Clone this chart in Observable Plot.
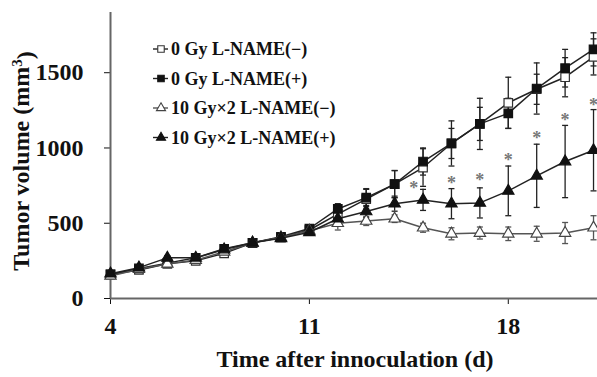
<!DOCTYPE html>
<html><head><meta charset="utf-8">
<script src="https://cdn.jsdelivr.net/npm/d3@7"></script>
<script src="https://cdn.jsdelivr.net/npm/@observablehq/plot@0.6"></script>
<style>body{margin:0;background:#fff}#chart{width:597px;height:377px}</style>
</head><body><div id="chart"></div>
<script>
const days = [4,5,6,7,8,9,10,11,12,13,14,15,16,17,18,19,20,21];
const seriesNames = ["0 Gy L-NAME(−)", "0 Gy L-NAME(+)", "10 Gy×2 L-NAME(−)", "10 Gy×2 L-NAME(+)"];
const gy0Minus  = [160,190,230,250,300,370,405,455,560,660,760,870,1030,1160,1300,1390,1470,1605];
const gy0MinusSd= [15,15,15,15,15,15,20,25,40,65,90,125,150,170,170,100,130,120];
const gy0Plus   = [160,200,235,270,330,370,410,465,595,670,760,910,1030,1160,1230,1395,1530,1655];
const gy0PlusSd = [15,15,15,15,15,15,20,25,35,60,90,90,100,110,100,170,125,110];
const gy10Minus = [150,195,230,255,310,370,405,450,500,515,530,470,430,435,430,430,435,470];
const gy10MinusSd=[15,15,15,15,15,15,15,20,45,30,25,30,40,40,45,50,70,80];
const gy10Plus  = [165,205,270,270,325,370,400,440,530,578,630,655,630,635,715,815,910,985];
const gy10PlusSd= [15,15,15,15,15,15,15,20,35,40,50,70,100,100,165,210,240,270];
const starDays  = [14.67,16,17,18,19,20,21];
const starY     = [750,783,803,937,1083,1203,1303];
const xTicks = [4,11,18];
const yTicks = [0,500,1000,1500];

const values = [gy0Minus, gy0Plus, gy10Minus, gy10Plus];
const sds = [gy0MinusSd, gy0PlusSd, gy10MinusSd, gy10PlusSd];
const styles = [
  {symbol:"square", fill:"white", stroke:"#333", line:"#222", r:4.8},
  {symbol:"square", fill:"#111", stroke:"#111", line:"#222", r:4.8},
  {symbol:"triangle", fill:"white", stroke:"#444", line:"#555", r:4.2},
  {symbol:"triangle", fill:"#111", stroke:"#111", line:"#222", r:4.2}
];
const rows = [];
seriesNames.forEach((s,i)=>days.forEach((d,j)=>rows.push({series:s, idx:i, day:d, v:values[i][j], sd:sds[i][j]})));
const stars = starDays.map((d,i)=>({day:d, y:starY[i]}));

const cap = {draw(ctx){ctx.moveTo(-3,0);ctx.lineTo(3,0);}};
const font = "Liberation Serif, Times New Roman, serif";

const marks = [
  Plot.ruleY([0], {stroke:"#666", strokeWidth:2}),
  Plot.ruleX([4], {stroke:"#666", strokeWidth:2}),
];
seriesNames.forEach((s,i)=>{
  const data = rows.filter(r=>r.idx===i);
  const st = styles[i];
  marks.push(Plot.ruleX(data, {x:"day", y1:d=>d.v-d.sd, y2:d=>d.v+d.sd, stroke:st.line, strokeWidth:1.3}));
  marks.push(Plot.dot(data, {x:"day", y:d=>d.v+d.sd, symbol:cap, stroke:st.line, strokeWidth:1.3, fill:"none"}));
  marks.push(Plot.dot(data, {x:"day", y:d=>d.v-d.sd, symbol:cap, stroke:st.line, strokeWidth:1.3, fill:"none"}));
});
seriesNames.forEach((s,i)=>{
  const data = rows.filter(r=>r.idx===i);
  const st = styles[i];
  marks.push(Plot.line(data, {x:"day", y:"v", stroke:st.line, strokeWidth:1.5}));
  marks.push(Plot.dot(data, {x:"day", y:"v", symbol:st.symbol, fill:st.fill, stroke:st.stroke, strokeWidth:1.2, r:st.r}));
});
marks.push(Plot.text(stars, {x:"day", y:"y", text:()=>"*", fill:"#777", fontSize:18, fontWeight:"bold", dy:3}));

const chart = Plot.plot({
  width:597, height:377,
  marginLeft:110, marginRight:0, marginTop:12, marginBottom:79,
  style:{fontFamily:font, fontSize:"24px", fontWeight:"bold", color:"#111", background:"white"},
  x:{domain:[4,21.14], ticks:xTicks, tickSize:6, tickPadding:12, label:null, tickFormat:d=>String(d)},
  y:{domain:[0,1900], ticks:yTicks, tickSize:6, tickPadding:21, label:null, tickFormat:d=>String(d)},
  marks
});
document.getElementById("chart").appendChild(chart);

const svg = d3.select(chart);
svg.append("text").attr("x",355).attr("y",367).attr("text-anchor","middle")
  .style("font-family",font).style("font-size","24px").style("font-weight","bold").attr("fill","#111")
  .text("Time after innoculation (d)");
const yt = svg.append("text").attr("transform","translate(29,161) rotate(-90)").attr("text-anchor","middle")
  .style("font-family",font).style("font-size","24px").style("font-weight","bold").attr("fill","#111");
yt.append("tspan").text("Tumor volume (mm");
yt.append("tspan").attr("dy","-0.45em").style("font-size","15px").text("3");
yt.append("tspan").attr("dy","0.45em").text(")");

const lg = svg.append("g");
seriesNames.forEach((s,i)=>{
  const st = styles[i];
  const cy = 49 + i*29.5;
  const g = lg.append("g").attr("transform",`translate(0,${cy})`);
  g.append("line").attr("x1",153).attr("x2",168).attr("y1",0).attr("y2",0).attr("stroke",st.line).attr("stroke-width",1.4);
  const sym = st.symbol==="square" ? d3.symbolSquare : d3.symbolTriangle;
  g.append("path").attr("d", d3.symbol(sym, st.symbol==="square"?42:36)()).attr("transform","translate(161,0)")
    .attr("fill",st.fill).attr("stroke",st.stroke).attr("stroke-width",1.1);
  g.append("text").attr("x",171).attr("y",0).attr("dy","0.35em").attr("text-anchor","start")
    .style("font-family",font).style("font-size","18px").style("font-weight","bold").attr("fill","#111").text(s);
});
</script></body></html>
